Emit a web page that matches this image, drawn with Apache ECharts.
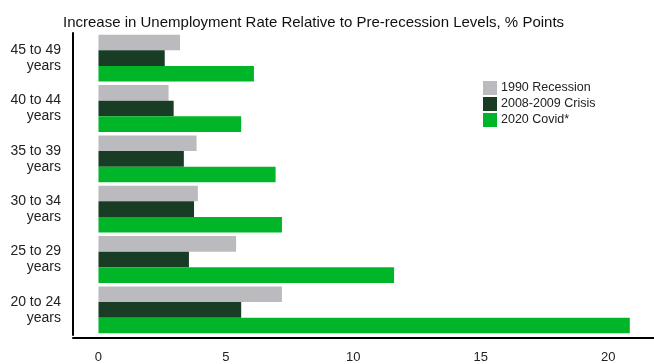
<!DOCTYPE html>
<html>
<head>
<meta charset="utf-8">
<script src="https://cdn.jsdelivr.net/npm/echarts@6/dist/echarts.min.js"></script>
<style>
  html, body { margin: 0; padding: 0; background: #fff; }
  #main { width: 654px; height: 364px; }
</style>
</head>
<body>
<div id="main"></div>
<script>
// age groups, top to bottom
var ageGroups = ['45 to 49\nyears', '40 to 44\nyears', '35 to 39\nyears', '30 to 34\nyears', '25 to 29\nyears', '20 to 24\nyears'];
var recession1990 = [3.2, 2.75, 3.85, 3.9, 5.4, 7.2];
var crisis2008 = [2.6, 2.95, 3.35, 3.75, 3.55, 5.6];
var covid2020 = [6.1, 5.6, 6.95, 7.2, 11.6, 20.85];
var xTicks = [0, 5, 10, 15, 20];

var myChart = echarts.init(document.getElementById('main'));

var option = {
    animation: false,
    textStyle: { fontFamily: 'Liberation Sans, Arial, sans-serif' },
    title: {
        text: 'Increase in Unemployment Rate Relative to Pre-recession Levels, % Points',
        left: 58,
        top: 10,
        textStyle: { fontSize: 15, fontWeight: 'normal', color: '#111' }
    },
    legend: {
        orient: 'vertical',
        left: 478,
        top: 76,
        itemWidth: 14,
        itemHeight: 14,
        itemGap: 2,
        icon: 'rect',
        textStyle: { fontSize: 12.5, color: '#222', padding: [0, 0, 0, -1] },
        data: ['1990 Recession', '2008-2009 Crisis', '2020 Covid*']
    },
    grid: { left: 73, right: 0, top: 33, height: 305 },
    xAxis: {
        type: 'value',
        min: -1,
        max: 21.8,
        offset: 3,
        splitLine: { show: false },
        axisTick: { show: false },
        axisLine: { show: true, lineStyle: { color: '#000', width: 2 } },
        axisLabel: {
            fontSize: 13,
            color: '#222',
            margin: 13,
            customValues: xTicks
        }
    },
    yAxis: {
        type: 'category',
        inverse: true,
        data: ageGroups,
        axisTick: { show: false },
        axisLine: { show: true, onZero: false, lineStyle: { color: '#000', width: 2 } },
        axisLabel: { fontSize: 14, color: '#222', margin: 12, lineHeight: 16, align: 'right' }
    },
    series: [
        { name: '1990 Recession', type: 'bar', data: recession1990, itemStyle: { color: '#bbbabf' },
          barGap: '0%', barCategoryGap: '7%' },
        { name: '2008-2009 Crisis', type: 'bar', data: crisis2008, itemStyle: { color: '#183d24' },
          barGap: '0%', barCategoryGap: '7%' },
        { name: '2020 Covid*', type: 'bar', data: covid2020, itemStyle: { color: '#00b528' },
          barGap: '0%', barCategoryGap: '7%' }
    ]
};

myChart.setOption(option);
</script>
</body>
</html>
